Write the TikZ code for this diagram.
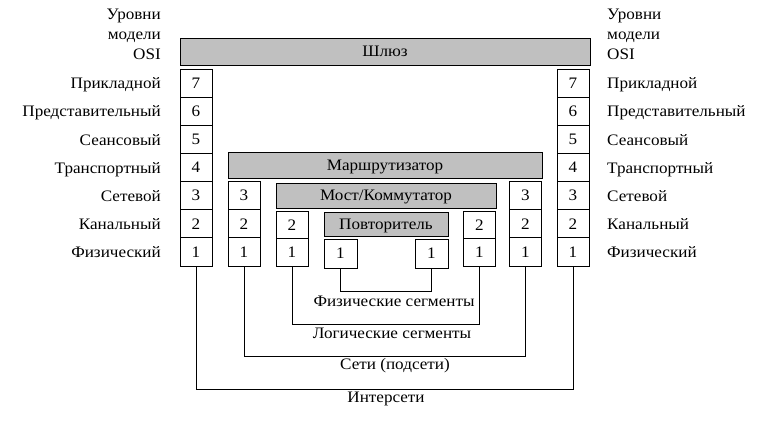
\documentclass[tikz,border=0pt]{standalone}
\usepackage{fontspec}
\setmainfont{Liberation Serif}[FakeStretch=1.07]
\definecolor{barfill}{RGB}{192,192,192}
\begin{document}
\begin{tikzpicture}[x=1pt,y=-1pt,
  every node/.style={font=\fontsize{16}{18}\selectfont},
  cell/.style={draw, line width=0.8pt, fill=white, minimum width=32pt, minimum height=28.14pt, inner sep=0pt, text height=10.6pt, text depth=0pt},
  bar/.style={draw, line width=0.8pt, fill=barfill, inner sep=0pt, text height=10.6pt, text depth=0pt},
  link/.style={line width=0.8pt},
  lbl/.style={inner sep=0pt}]
\useasboundingbox (0,0) rectangle (759,423);
% header labels
\node[lbl, anchor=base east] (hl1) at (161,19) {Уровни};
\node[lbl, anchor=base east] (hl2) at (161,39) {модели};
\node[lbl, anchor=base east] (hl3) at (161,59) {OSI};
\node[lbl, anchor=base west] (hr1) at (607,19) {Уровни};
\node[lbl, anchor=base west] (hr2) at (607,39) {модели};
\node[lbl, anchor=base west] (hr3) at (607,59) {OSI};
% gateway
\node[bar, minimum width=410pt, minimum height=27pt] (gw) at (385,51.5) {Шлюз};
% main columns and layer names
\foreach \n/\t [count=\k from 0] in {7/Прикладной,6/Представительный,5/Сеансовый,4/Транспортный,3/Сетевой,2/Канальный,1/Физический}{
  \node[cell] (L\n) at (196,{83.07+\k*28.14}) {\n};
  \node[cell] (R\n) at (573,{83.07+\k*28.14}) {\n};
  \node[lbl, anchor=base east] (LL\n) at (161,{88.8+\k*28.14}) {\t};
  \node[lbl, anchor=base west] (RL\n) at (607,{88.8+\k*28.14}) {\t};
}
% router
\node[bar, minimum width=314pt, minimum height=26pt] (router) at (385,165) {Маршрутизатор};
\foreach \n [count=\k from 4] in {3,2,1}{
  \node[cell] (A\n) at (244,{83.07+\k*28.14}) {\n};
  \node[cell] (B\n) at (525.5,{83.07+\k*28.14}) {\n};
}
% bridge
\node[bar, minimum width=220pt, minimum height=25pt] (bridge) at (386,195.5) {Мост/Коммутатор};
\node[cell, minimum height=27.5pt] (C2) at (292,224.75) {2};
\node[cell, minimum height=27.5pt] (C1) at (292,252.25) {1};
\node[cell, minimum height=27.5pt] (D2) at (479.5,224.75) {2};
\node[cell, minimum height=27.5pt] (D1) at (479.5,252.25) {1};
% repeater
\node[bar, minimum width=124pt, minimum height=24pt] (rep) at (386,224) {Повторитель};
\node[cell, minimum width=33pt, minimum height=29pt] (E1) at (340.5,253.5) {1};
\node[cell, minimum width=33pt, minimum height=29pt] (F1) at (431.5,253.5) {1};
% connectors
\coordinate (yP) at (0,291);
\coordinate (yG) at (0,324);
\coordinate (yN) at (0,356);
\coordinate (yI) at (0,389);
\draw[link] (E1.south) -- (E1.south |- yP) -| (F1.south);
\draw[link] (C1.south) -- (C1.south |- yG) -| (D1.south);
\draw[link] (A1.south) -- (A1.south |- yN) -| (B1.south);
\draw[link] (L1.south) -- (L1.south |- yI) -| (R1.south);
\node[lbl] (tP) at (394,301) {Физические сегменты};
\node[lbl] (tG) at (392,333) {Логические сегменты};
\node[lbl] (tN) at (395,366) {Сети (подсети)};
\node[lbl] (tI) at (386,399) {Интерсети};
\end{tikzpicture}
\end{document}
